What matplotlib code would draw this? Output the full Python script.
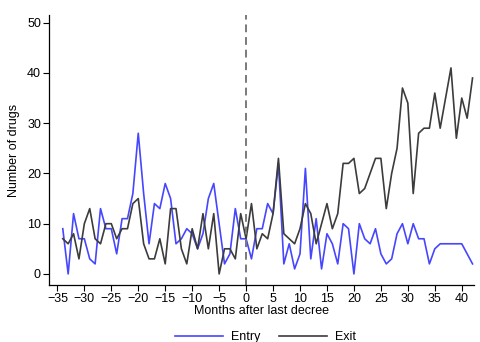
import matplotlib
matplotlib.use("Agg")
import matplotlib.pyplot as plt

plt.rcParams['font.family'] = ['Liberation Sans', 'DejaVu Sans']

# Months relative to the last decree
months = list(range(-34, 43))

entry = [9, 0, 12, 7, 7, 3, 2, 13, 9, 9, 4, 11, 11, 16, 28, 16, 6, 14, 13, 18,
         15, 6, 7, 9, 8, 5, 8, 15, 18, 10, 2, 4, 13, 7, 7, 3, 9, 9, 14, 12,
         22, 2, 6, 1, 4, 21, 3, 11, 1, 8, 6, 2, 10, 9, 0, 10, 7, 6, 9, 4,
         2, 3, 8, 10, 6, 10, 7, 7, 2, 5, 6, 6, 6, 6, 6, 4, 2]

exit_ = [7, 6, 8, 3, 10, 13, 7, 6, 10, 10, 7, 9, 9, 14, 15, 6, 3, 3, 7, 2,
         13, 13, 5, 2, 9, 5, 12, 5, 12, 0, 5, 5, 3, 12, 7, 14, 5, 8, 7, 12,
         23, 8, 7, 6, 9, 14, 12, 6, 10, 14, 9, 12, 22, 22, 23, 16, 17, 20, 23, 23,
         13, 20, 25, 37, 34, 16, 28, 29, 29, 36, 29, 35, 41, 27, 35, 31, 39]

x_ticks = list(range(-35, 41, 5))
y_ticks = list(range(0, 51, 10))

fig = plt.figure(figsize=(4.8, 3.42), dpi=100)
ax = fig.add_axes([0.1027, 0.1667, 0.884, 0.789])

ax.plot(months, entry, color='#4646ff', lw=1.2, label='Entry')
ax.plot(months, exit_, color='#3c3c3c', lw=1.2, label='Exit')
ax.axvline(0, color='#7a7a7a', lw=1.4, ls=(0, (4, 2.5)))

ax.set_xlim(-36.5, 42.2)
ax.set_ylim(-2.2, 51.5)
ax.set_xticks(x_ticks)
ax.set_yticks(y_ticks)
ax.tick_params(direction='out', length=4, width=0.8, labelsize=9, pad=2)
for s in ('top', 'right'):
    ax.spines[s].set_visible(False)
for s in ('left', 'bottom'):
    ax.spines[s].set_linewidth(0.9)

ax.set_xlabel('Months after last decree', fontsize=9, labelpad=0)
ax.set_ylabel('Number of drugs', fontsize=9, labelpad=5)

fig.legend(loc='lower center', bbox_to_anchor=(0.553, -0.037), ncol=2,
           frameon=False, fontsize=9, handlelength=3.8, columnspacing=1.5,
           handletextpad=0.65)

fig.savefig('out.png', dpi=100)
